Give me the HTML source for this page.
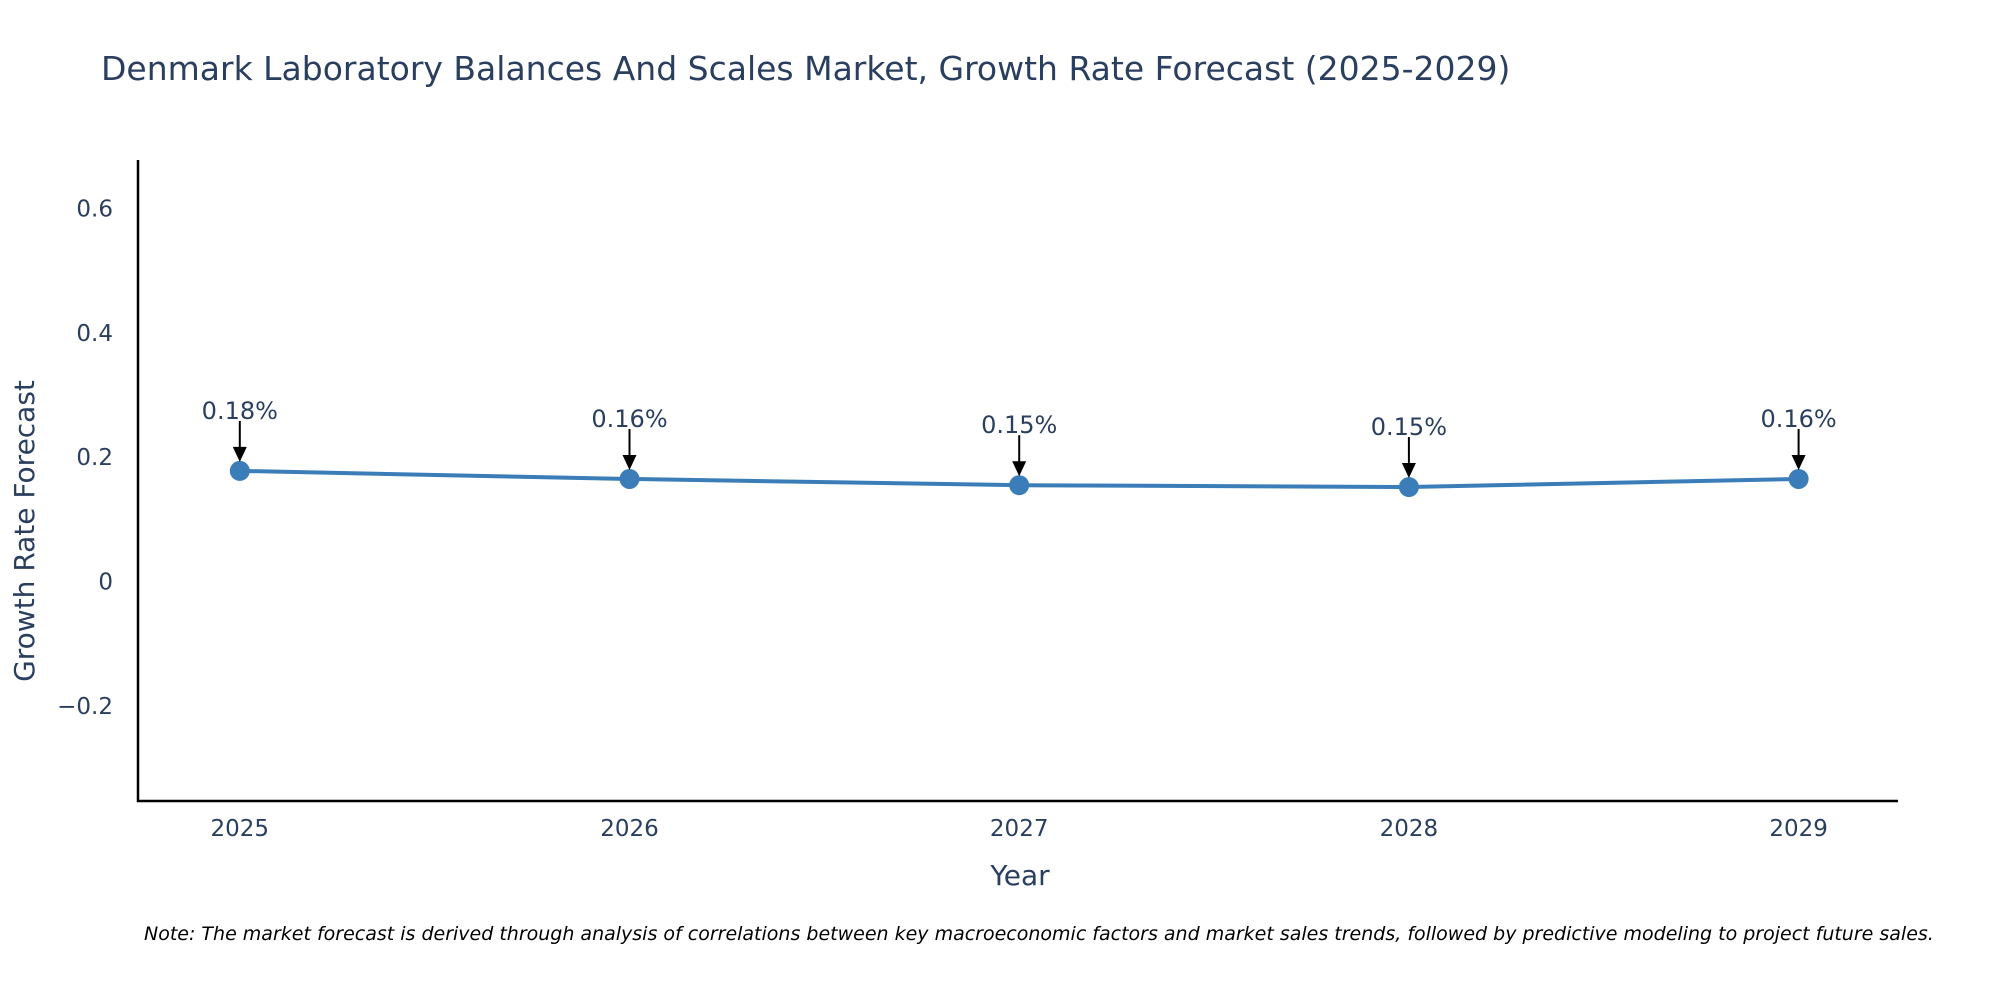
<!DOCTYPE html>
<html><head><meta charset="utf-8"><style>
html,body{margin:0;padding:0;background:#fff;}
svg{display:block;font-family:"DejaVu Sans",sans-serif;}
</style></head><body>
<svg id="chart" width="2000" height="1000" viewBox="0 0 2000 1000">
<text x="101" y="80" font-size="33" fill="#2a3f5f">Denmark Laboratory Balances And Scales Market, Growth Rate Forecast (2025-2029)</text>
<g id="yticks"></g><g id="xticks"></g>
<line x1="138" y1="160" x2="138" y2="802" stroke="#000" stroke-width="2.5"/>
<line x1="137" y1="801" x2="1898" y2="801" stroke="#000" stroke-width="2.5"/>
<g id="series"></g>
<text x="1020" y="885" font-size="28" fill="#2a3f5f" text-anchor="middle">Year</text>
<text transform="translate(34,531) rotate(-90)" font-size="28" fill="#2a3f5f" text-anchor="middle">Growth Rate Forecast</text>
<text x="144" y="940" font-size="19" font-style="italic" fill="#000">Note: The market forecast is derived through analysis of correlations between key macroeconomic factors and market sales trends, followed by predictive modeling to project future sales.</text>
</svg>
<script>
const years = ["2025","2026","2027","2028","2029"];
const values = [0.178, 0.165, 0.155, 0.152, 0.165];
const labels = ["0.18%","0.16%","0.15%","0.15%","0.16%"];
const yTicks = [-0.2, 0, 0.2, 0.4, 0.6];
const yTickLabels = ["\u22120.2","0","0.2","0.4","0.6"];
const NS="http://www.w3.org/2000/svg";
const x0=239.8, dx=389.7;
const xs=i=>x0+i*dx;
const ys=v=>581.6-v*622;
function mk(tag,attrs,parent){const e=document.createElementNS(NS,tag);for(const k in attrs)e.setAttribute(k,attrs[k]);parent.appendChild(e);return e;}
const yg=document.getElementById('yticks');
yTicks.forEach((t,i)=>{const e=mk('text',{x:113,y:ys(t)+8,'font-size':23,fill:'#2a3f5f','text-anchor':'end'},yg);


e.textContent=yTickLabels[i];});
const xg=document.getElementById('xticks');
years.forEach((y,i)=>{const e=mk('text',{x:xs(i),y:836,'font-size':23,fill:'#2a3f5f','text-anchor':'middle'},xg);


e.textContent=y;});
const sg=document.getElementById('series');
const line=mk('polyline',{points:values.map((v,i)=>xs(i)+','+ys(v)).join(' '),fill:'none',stroke:'#3b7db8','stroke-width':4},sg);


values.forEach((v,i)=>{
 const c=mk('circle',{cx:xs(i),cy:ys(v),r:10,fill:'#3b7db8'},sg);
 
 
 const yTop=ys(v)-9;
 const l=mk('line',{x1:xs(i),y1:yTop-41,x2:xs(i),y2:yTop-12,stroke:'#000','stroke-width':2},sg);
 
 
 const p=mk('polygon',{points:`${xs(i)-7},${yTop-15} ${xs(i)+7},${yTop-15} ${xs(i)},${yTop}`,fill:'#000'},sg);
 
 
 const t=mk('text',{x:xs(i),y:yTop-43,'font-size':24,fill:'#2a3f5f','text-anchor':'middle'},sg);
 
 
 t.textContent=labels[i];
});
</script>
</body></html>
